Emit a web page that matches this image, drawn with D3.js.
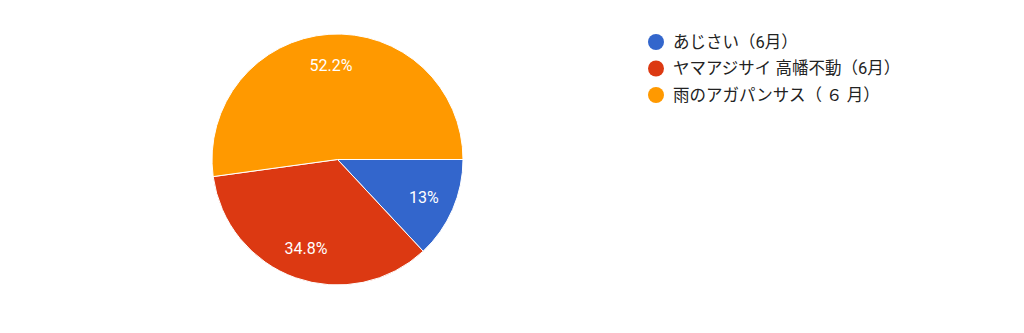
<!DOCTYPE html>
<html><head><meta charset="utf-8">
<script src="https://cdn.jsdelivr.net/npm/d3@7"></script>
<style>body{margin:0;background:#fff}</style>
</head><body>
<svg id="c" width="1024" height="333"></svg>
<script>
const categories = ["あじさい（6月）", "ヤマアジサイ 高幡不動（6月）", "雨のアガパンサス（ ６ 月）"];
const values = [3, 8, 12];
const colors = ["#3366cc", "#dc3912", "#ff9900"];

const svg = d3.select("#c");
const cx = 337.5, cy = 159.5, r = 125.5;
const total = d3.sum(values);
const pie = d3.pie().sort(null).value(d => d)
  .startAngle(Math.PI / 2).endAngle(Math.PI / 2 + 2 * Math.PI);
const arcs = pie(values);
const arc = d3.arc().innerRadius(0).outerRadius(r);
const g = svg.append("g").attr("transform", `translate(${cx},${cy})`);
g.selectAll("path").data(arcs).join("path")
  .attr("d", arc).attr("fill", (d, i) => colors[i])
  .attr("stroke", "#fff").attr("stroke-width", 1);
const labelArc = d3.arc().innerRadius(r * 0.75).outerRadius(r * 0.75);
const fmt = v => { const p = Math.round(v / total * 1000) / 10; return p + "%"; };
g.selectAll("text").data(arcs).join("text")
  .attr("transform", d => `translate(${labelArc.centroid(d)})`)
  .attr("text-anchor", "middle").attr("dy", "0.36em")
  .attr("fill", "#fff").attr("font-family", "Roboto, Arial, sans-serif")
  .attr("font-size", 16)
  .text(d => fmt(d.value));

const leg = svg.append("g");
const items = leg.selectAll("g").data(categories).join("g")
  .attr("transform", (d, i) => `translate(656,${42 + i * 26.5})`);
items.append("circle").attr("r", 8).attr("fill", (d, i) => colors[i]);
items.append("text").attr("x", 17).attr("dy", "0.36em")
  .attr("font-family", "Roboto, 'Noto Sans CJK JP', sans-serif")
  .attr("font-size", 16.5).attr("fill", "#222").text(d => d);
</script>
</body></html>
